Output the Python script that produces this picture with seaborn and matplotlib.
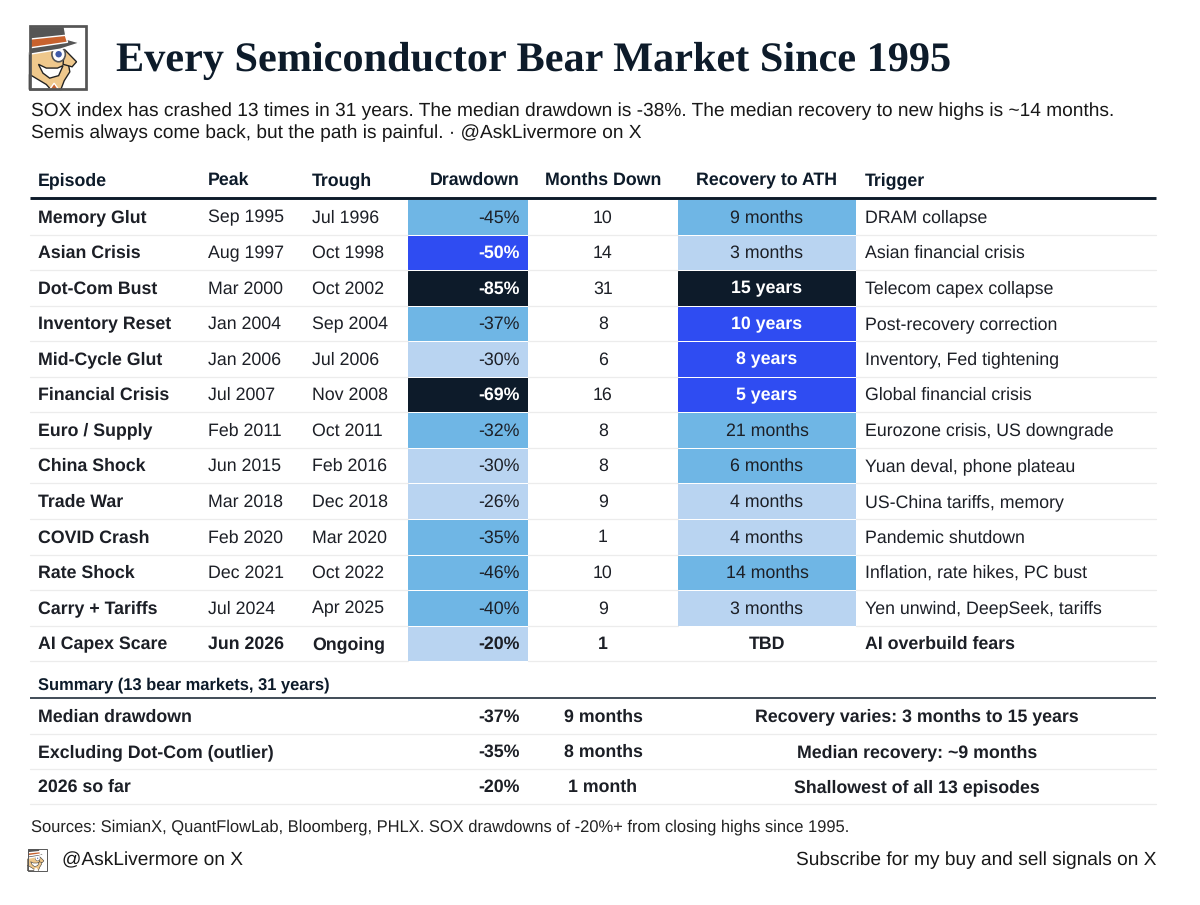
import numpy as np
import pandas as pd
import matplotlib
matplotlib.use('Agg')
import matplotlib.pyplot as plt
from matplotlib.colors import ListedColormap, BoundaryNorm
from matplotlib.patches import Polygon, Circle, Rectangle, Ellipse
import seaborn as sns

# Dados da tabela
episodes = ['Memory Glut', 'Asian Crisis', 'Dot-Com Bust', 'Inventory Reset', 'Mid-Cycle Glut',
            'Financial Crisis', 'Euro / Supply', 'China Shock', 'Trade War', 'COVID Crash',
            'Rate Shock', 'Carry + Tariffs', 'AI Capex Scare']
peaks = ['Sep 1995', 'Aug 1997', 'Mar 2000', 'Jan 2004', 'Jan 2006', 'Jul 2007', 'Feb 2011',
         'Jun 2015', 'Mar 2018', 'Feb 2020', 'Dec 2021', 'Jul 2024', 'Jun 2026']
troughs = ['Jul 1996', 'Oct 1998', 'Oct 2002', 'Sep 2004', 'Jul 2006', 'Nov 2008', 'Oct 2011',
           'Feb 2016', 'Dec 2018', 'Mar 2020', 'Oct 2022', 'Apr 2025', 'Ongoing']
drawdowns = [-45, -50, -85, -37, -30, -69, -32, -30, -26, -35, -46, -40, -20]
months_down = [10, 14, 31, 8, 6, 16, 8, 8, 9, 1, 10, 9, 1]
recovery_labels = ['9 months', '3 months', '15 years', '10 years', '8 years', '5 years', '21 months',
                   '6 months', '4 months', '4 months', '14 months', '3 months', 'TBD']
recovery_months = [9, 3, 180, 120, 96, 60, 21, 6, 4, 4, 14, 3, np.nan]
triggers = ['DRAM collapse', 'Asian financial crisis', 'Telecom capex collapse', 'Post-recovery correction',
            'Inventory, Fed tightening', 'Global financial crisis', 'Eurozone crisis, US downgrade',
            'Yuan deval, phone plateau', 'US-China tariffs, memory', 'Pandemic shutdown',
            'Inflation, rate hikes, PC bust', 'Yen unwind, DeepSeek, tariffs', 'AI overbuild fears']

summary_names = ['Median drawdown', 'Excluding Dot-Com (outlier)', '2026 so far']
summary_dd = ['-37%', '-35%', '-20%']
summary_months = ['9 months', '8 months', '1 month']
summary_notes = ['Recovery varies: 3 months to 15 years', 'Median recovery: ~9 months',
                 'Shallowest of all 13 episodes']

headers = ['Episode', 'Peak', 'Trough', 'Drawdown', 'Months Down', 'Recovery to ATH', 'Trigger']

NAVY = '#0d1b2a'
BLUE = '#2f4cf2'
MID = '#6fb6e5'
LIGHT = '#b9d4f1'
INK = '#1c1f26'
RULE = '#ececec'
palette = ListedColormap([LIGHT, MID, BLUE, NAVY])
W, H = 1200, 905

sns.set_theme(style='white')
plt.rcParams['font.family'] = ['Liberation Sans', 'DejaVu Sans']
plt.rcParams['text.hinting'] = 'no_hinting'

fig = plt.figure(figsize=(W / 100, H / 100), dpi=100, facecolor='white')
ax = fig.add_axes([0, 0, 1, 1], zorder=2)
ax.set_xlim(0, W)
ax.set_ylim(H, 0)
ax.axis('off')

ROW_TOP = 199.0
ROW_H = 35.55
n = len(episodes)


def px(size):
    return size * 0.72


def label(x, y, s, size=17.8, bold=False, color=INK, ha='left', **kw):
    # linha de base fixa para não oscilar com as descendentes
    ax.text(x, y + 0.36 * size - 0.8, s, fontsize=px(size), fontweight='bold' if bold else 'normal',
            color=color, ha=ha, va='baseline', **kw)


def heat(values, bounds, left, right):
    # coluna colorida: uma linha por episódio
    hax = fig.add_axes([(left - 1) / W, 1 - (ROW_TOP + n * ROW_H) / H, (right - left + 1) / W, n * ROW_H / H], zorder=0)
    frame = pd.DataFrame({'v': values})
    sns.heatmap(frame, ax=hax, cmap=palette, norm=BoundaryNorm(bounds, palette.N), cbar=False,
                xticklabels=False, yticklabels=False, linewidths=0.6, linecolor='white')
    hax.patch.set_alpha(0)


def icon(x0, y0, w, h):
    def pts(*xy):
        return [(x0 + a * w, y0 + b * h) for a, b in xy]
    lw = 2.0 * w / 57
    line = dict(ec='#222222', lw=lw * .5)
    ax.add_patch(Rectangle((x0, y0), w, h, fc='white', ec='none'))
    # rosto
    ax.add_patch(Polygon(pts((0, .42), (.35, .35), (.62, .5), (.7, .62), (.72, .72), (.62, .86), (.56, 1), (0, 1)),
                         fc='#efc88c', **line))
    # camisa e gravata
    ax.add_patch(Polygon(pts((0, .76), (.3, .92), (.38, 1), (0, 1)), fc='white', **line))
    ax.add_patch(Polygon(pts((.36, 1), (.44, .9), (.52, 1)), fc='#c8622e'))
    # sorriso
    ax.add_patch(Polygon(pts((.16, .6), (.3, .66), (.5, .66), (.6, .62), (.52, .78), (.36, .82), (.24, .74)), fc='white', **line))
    # nariz
    ax.add_patch(Polygon(pts((.62, .36), (.84, .56), (.76, .64), (.6, .6)), fc='#efc88c', **line))
    # óculos
    ax.add_patch(Ellipse((x0 + .52 * w, y0 + .44 * h), .24 * w, .24 * h, fc='white', ec='#555555', lw=lw * .6))
    ax.add_patch(Circle((x0 + .52 * w, y0 + .44 * h), .07 * w, fc='#3f5aa8'))
    # chapéu
    ax.add_patch(Polygon(pts((0, 0), (.62, 0), (.66, .2), (.9, .26), (.55, .36), (0, .44)), fc='#555555'))
    ax.add_patch(Polygon(pts((0, .2), (.64, .14), (.68, .25), (0, .34)), fc='#c8622e'))
    ax.add_patch(Rectangle((x0, y0), w, h, fc='none', ec='#555555', lw=lw))


# título e subtítulo
icon(29.5, 26.5, 56, 63)
ax.text(116, 70.5, 'Every Semiconductor Bear Market Since 1995', family='Liberation Serif', fontweight='bold',
        fontsize=px(42.3), color=NAVY, ha='left', va='baseline')
label(31, 110, 'SOX index has crashed 13 times in 31 years. The median drawdown is -38%. The median recovery to new highs is ~14 months.', size=19.2, color='#181818')
label(31, 132, 'Semis always come back, but the path is painful. · @AskLivermore on X', size=19.2, color='#181818')

# cabeçalho
xs = [38, 208, 312, 520, 603, 767, 865]
aligns = ['left', 'left', 'left', 'right', 'center', 'center', 'left']
for x, s, a in zip(xs, headers, aligns):
    label(x, 179.5, s, bold=True, color=NAVY, ha=a)
ax.plot([30, 1156], [198, 198], color=NAVY, lw=2.1, solid_capstyle='butt')

drawdowns_abs = [abs(d) for d in drawdowns]
heat(drawdowns_abs, [0, 31, 50, 69, 100], 408, 528)
heat(recovery_months, [0, 5, 25, 150, 400], 678, 856)

# linhas da tabela
for i in range(n):
    yc = ROW_TOP + (i + .5) * ROW_H
    yb = ROW_TOP + (i + 1) * ROW_H
    last = i == n - 1
    if last:
        ax.plot([30, 408], [yb, yb], color=RULE, lw=0.9)
        ax.plot([528, 1156], [yb, yb], color=RULE, lw=0.9)
    else:
        for a, b in [(30, 408), (528, 678), (856, 1156)]:
            ax.plot([a, b], [yb, yb], color=RULE, lw=0.9)
    label(xs[0], yc, episodes[i], bold=True)
    label(xs[1], yc, peaks[i], bold=last)
    label(xs[2], yc, troughs[i], bold=last)
    strong = drawdowns_abs[i] >= 50
    label(xs[3], yc, f'{drawdowns[i]}%', bold=strong or last, color='white' if strong else INK, ha='right')
    label(xs[4], yc, str(months_down[i]), bold=last, ha='center')
    strong = recovery_months[i] >= 25
    label(xs[5], yc, recovery_labels[i], bold=strong or last, color='white' if strong else INK, ha='center')
    label(xs[6], yc, triggers[i], bold=last)

# resumo
label(38, 684, 'Summary (13 bear markets, 31 years)', size=16.5, bold=True, color=NAVY)
ax.plot([30, 1156], [698, 698], color=NAVY, lw=1.1, solid_capstyle='butt')
for i in range(3):
    yc = 716 + i * 35.3
    ax.plot([30, 1156], [yc + 17.6] * 2, color=RULE, lw=0.9)
    label(38, yc, summary_names[i], bold=True)
    label(520, yc, summary_dd[i], bold=True, ha='right')
    label(603, yc, summary_months[i], bold=True, ha='center')
    label(917, yc, summary_notes[i], bold=True, ha='center')

# rodapé
label(31, 826, 'Sources: SimianX, QuantFlowLab, Bloomberg, PHLX. SOX drawdowns of -20%+ from closing highs since 1995.', size=16.5, color='#222222')
icon(27.5, 848.5, 19.5, 22)
label(62, 859, '@AskLivermore on X', size=19.1, color='#181818')
label(1156, 859, 'Subscribe for my buy and sell signals on X', size=19.2, color='#181818', ha='right')

fig.savefig('out.png', dpi=100)
